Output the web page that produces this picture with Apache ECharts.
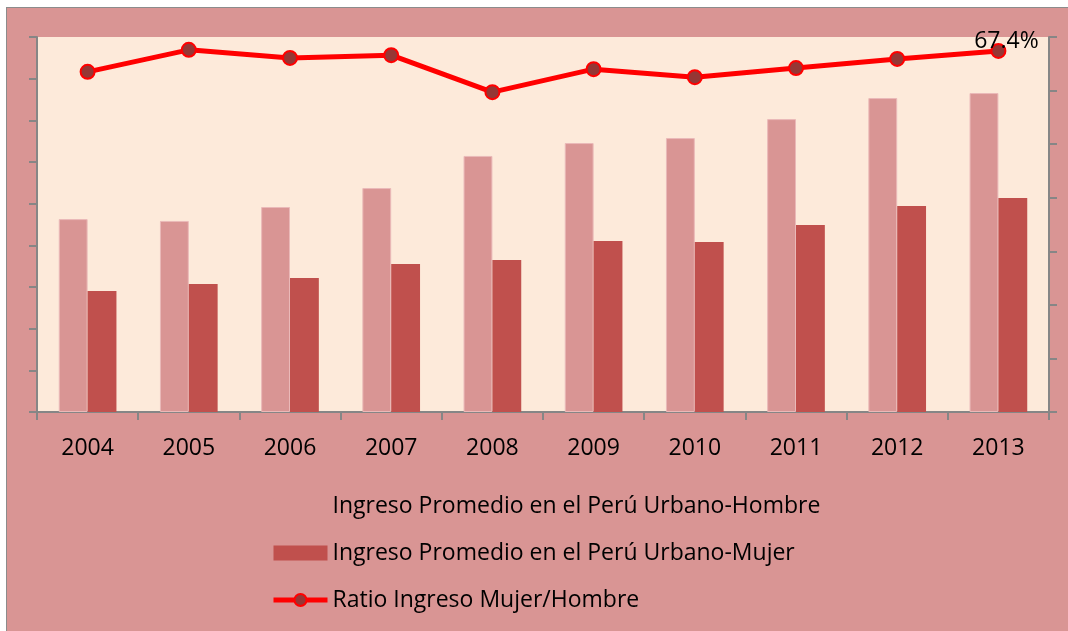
<!DOCTYPE html>
<html>
<head>
<meta charset="utf-8">
<script src="https://cdn.jsdelivr.net/npm/echarts@6/dist/echarts.min.js"></script>
<style>
  html, body { margin: 0; padding: 0; background: #ffffff; }
  #frame {
    position: absolute; left: 6px; top: 7px; width: 1062px; height: 624px;
    background: #D99594; border-left: 1px solid #8C8C8C; border-top: 1px solid #8C8C8C;
  }
  #chart { position: absolute; left: 0; top: 0; width: 1068px; height: 631px; }
</style>
</head>
<body>
<div id="frame"></div>
<div id="chart"></div>
<script>
// categories
const years = ['2004', '2005', '2006', '2007', '2008', '2009', '2010', '2011', '2012', '2013'];
// average income (soles)
const ingresoHombre = [926, 917, 984, 1075, 1229, 1291, 1315, 1406, 1507, 1531];
const ingresoMujer = [581, 614, 643, 710, 730, 821, 816, 898, 989, 1027];
// ratio mujer / hombre
const ratio = [0.635, 0.676, 0.661, 0.666, 0.597, 0.640, 0.625, 0.642, 0.659, 0.674];

const seriesNames = [
    'Ingreso Promedio en el Perú Urbano-Hombre',
    'Ingreso Promedio en el Perú Urbano-Mujer',
    'Ratio Ingreso Mujer/Hombre'
];

const FONT = 'Open Sans';
const AXIS_GRAY = '#868686';

let chart = echarts.init(document.getElementById('chart'));

const option = {
    backgroundColor: 'transparent',
    animation: false,
    textStyle: { fontFamily: FONT },
    grid: {
        left: 37, right: 19, top: 37, bottom: 219,
        show: true, backgroundColor: '#FDEADA', borderWidth: 0,
        containLabel: false
    },
    legend: {
        orient: 'vertical',
        left: 266,
        top: 488,
        itemWidth: 54,
        itemHeight: 15,
        itemGap: 21,
        textStyle: { fontFamily: FONT, fontSize: 23, color: '#000', lineHeight: 26 },
        data: [
            { name: seriesNames[0], icon: 'rect', itemStyle: { borderWidth: 0 } },
            { name: seriesNames[1], icon: 'rect', itemStyle: { borderWidth: 0 } },
            {
                name: seriesNames[2],
                itemStyle: { color: '#953735', borderColor: '#FF0000', borderWidth: 2 },
                lineStyle: { color: '#FF0000', width: 5 }
            }
        ]
    },
    xAxis: {
        type: 'category',
        data: years,
        axisLine: { lineStyle: { color: AXIS_GRAY, width: 2 } },
        axisTick: { show: true, length: 8, lineStyle: { color: AXIS_GRAY, width: 2 } },
        axisLabel: { color: '#000', fontSize: 23, fontFamily: FONT, margin: 25 }
    },
    yAxis: [
        {
            type: 'value', min: 0, max: 1800, interval: 200,
            axisLine: { show: true, lineStyle: { color: AXIS_GRAY, width: 2 } },
            axisTick: { show: true, length: 8, lineStyle: { color: AXIS_GRAY, width: 2 } },
            axisLabel: { show: false },
            splitLine: { show: false }
        },
        {
            type: 'value', min: 0, max: 0.7, interval: 0.1, position: 'right',
            axisLine: { show: true, lineStyle: { color: AXIS_GRAY, width: 2 } },
            axisTick: { show: true, length: 8, lineStyle: { color: AXIS_GRAY, width: 2 } },
            axisLabel: { show: false },
            splitLine: { show: false }
        }
    ],
    series: [
        {
            name: seriesNames[0],
            type: 'bar',
            data: ingresoHombre,
            barGap: '0%',
            barCategoryGap: '43%',
            itemStyle: { color: '#D99594', borderColor: '#EAB9B8', borderWidth: 1 }
        },
        {
            name: seriesNames[1],
            type: 'bar',
            data: ingresoMujer,
            itemStyle: { color: '#C0504D' }
        },
        {
            name: seriesNames[2],
            type: 'line',
            yAxisIndex: 1,
            data: ratio.map((v, i) => i === ratio.length - 1
                ? { value: v, label: { show: true } }
                : v),
            symbol: 'circle',
            symbolSize: 14,
            lineStyle: { color: '#FF0000', width: 5 },
            itemStyle: { color: '#953735', borderColor: '#FF0000', borderWidth: 2 },
            label: {
                show: false,
                position: 'top',
                distance: 0,
                offset: [8, 10],
                color: '#000',
                fontSize: 23,
                fontFamily: FONT,
                formatter: p => (p.value * 100).toFixed(1) + '%'
            },
            z: 5
        }
    ]
};

chart.setOption(option);
</script>
</body>
</html>
